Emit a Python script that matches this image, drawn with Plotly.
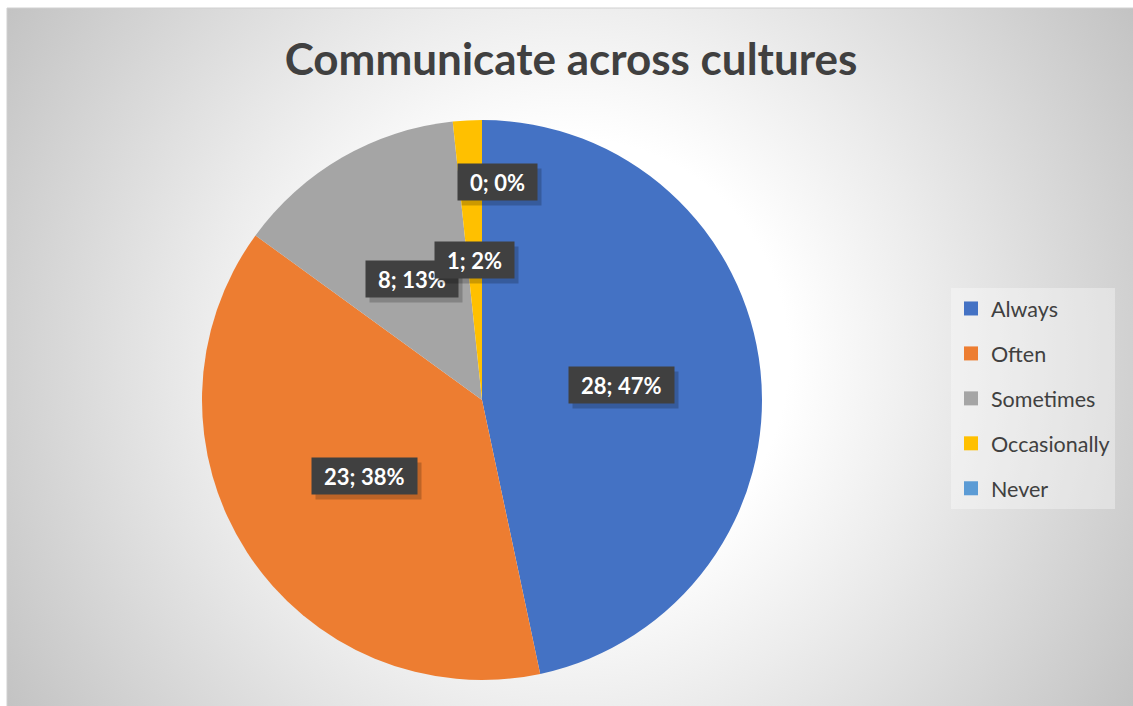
import base64
import math
import plotly.graph_objects as go

# Survey answers for "Communicate across cultures"
categories = ["Always", "Often", "Sometimes", "Occasionally", "Never"]
counts = [28, 23, 8, 1, 0]
colors = ["#4472C4", "#ED7D31", "#A5A5A5", "#FFC000", "#5B9BD5"]

W, H = 1133, 706
FRAME_L, FRAME_T = 7, 8
CX, CY, R = 482, 400, 280  # pie centre and radius in pixels
LABEL_SIZE = 22


def px(x):
    return x / W


def py(y):
    return 1 - y / H


def text_width(s, size):
    # rough advance widths for bold Lato
    em = {";": 0.26, " ": 0.19, "%": 0.80}
    return sum(em.get(c, 0.58) for c in s) * size


# radial grey gradient behind the chart area
fw, fh = W - FRAME_L, H - FRAME_T
gcx, gcy = 563, 349
svg = f"""<svg xmlns='http://www.w3.org/2000/svg' width='{fw}' height='{fh}' viewBox='0 0 {fw} {fh}' preserveAspectRatio='none'>
<defs><radialGradient id='g' gradientUnits='userSpaceOnUse' cx='{gcx}' cy='{gcy}' r='662'>
<stop offset='0' stop-color='#ffffff'/><stop offset='0.33' stop-color='#ffffff'/>
<stop offset='0.55' stop-color='#ececec'/><stop offset='1' stop-color='#c3c3c3'/>
</radialGradient></defs><rect width='{fw}' height='{fh}' fill='url(#g)'/></svg>"""
bg_uri = "data:image/svg+xml;base64," + base64.b64encode(svg.encode()).decode()

fig = go.Figure()
fig.add_trace(go.Pie(
    labels=categories, values=counts,
    marker=dict(colors=colors, line=dict(width=0)),
    sort=False, direction="clockwise", rotation=0,
    textinfo="none", hoverinfo="label+value+percent",
    showlegend=False,
    domain=dict(x=[px(CX - R), px(CX + R)], y=[py(CY + R), py(CY - R)]),
))

# legend entries, one group per category so they can be spaced apart
for name, col in zip(categories, colors):
    fig.add_trace(go.Scatter(
        x=[None], y=[None], mode="markers", name=name, legendgroup=name,
        marker=dict(symbol="square", size=14, color=col),
    ))

# value labels: "count; percent" in dark boxes at the slice mid-angles
total = sum(counts)
annotations = []
cum = 0
for name, v in zip(categories, counts):
    mid = (cum + v / 2) / total * 2 * math.pi
    cum += v
    rr = 0.5 * R
    if v == 0:
        rr = 0.78 * R
        mid += math.radians(4)
    x = CX + rr * math.sin(mid)
    y = CY - rr * math.cos(mid)
    pct = round(v / total * 100)
    plain = f"{v}; {pct}%"
    bw = text_width(plain, LABEL_SIZE) + 14
    # soft drop shadow under the label box
    annotations.append(dict(
        x=px(x + 4), y=py(y + 5), xref="paper", yref="paper",
        xanchor="center", yanchor="middle", text=" ", width=bw, height=24,
        showarrow=False, font=dict(family="Lato", size=LABEL_SIZE),
        bgcolor="rgba(0,0,0,0.2)", borderpad=6,
    ))
    annotations.append(dict(
        x=px(x), y=py(y), xref="paper", yref="paper",
        xanchor="center", yanchor="middle", text=f"<b>{plain}</b>",
        width=bw, height=24,
        showarrow=False, font=dict(family="Lato", size=LABEL_SIZE, color="#ffffff"),
        bgcolor="#404040", borderpad=6,
    ))

fig.update_layout(
    width=W, height=H,
    margin=dict(l=0, r=0, t=0, b=0),
    paper_bgcolor="#ffffff", plot_bgcolor="rgba(0,0,0,0)",
    title=dict(
        text="<b>Communicate across cultures</b>",
        x=px(571), xanchor="center", y=py(60), yanchor="middle",
        font=dict(family="Lato", size=44, color="#404040"),
    ),
    xaxis=dict(visible=False), yaxis=dict(visible=False),
    legend=dict(
        x=px(951), xanchor="left", y=py(288), yanchor="top",
        bgcolor="rgba(255,255,255,0.35)", borderwidth=0,
        font=dict(family="Lato", size=21.5, color="#404040"),
        tracegroupgap=14, itemclick=False,
    ),
    images=[dict(
        source=bg_uri, xref="paper", yref="paper",
        x=px(FRAME_L), y=py(FRAME_T), sizex=px(fw), sizey=fh / H,
        xanchor="left", yanchor="top", sizing="stretch", layer="below",
    )],
    shapes=[dict(
        type="rect", xref="paper", yref="paper",
        x0=px(FRAME_L), x1=px(W + 2), y0=py(H + 2), y1=py(FRAME_T),
        line=dict(color="#d0d0d0", width=1), fillcolor="rgba(0,0,0,0)", layer="below",
    )],
    annotations=annotations,
)

fig.write_html("out.html")
